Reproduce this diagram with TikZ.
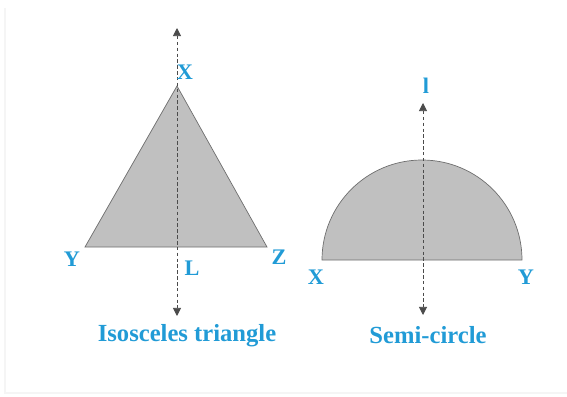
\documentclass[tikz,border=0pt]{standalone}
\usepackage{fontspec}
\setmainfont{Liberation Serif}
\usetikzlibrary{arrows.meta,positioning}
\definecolor{symBlue}{RGB}{33, 155, 214}
\definecolor{symFill}{RGB}{192, 192, 192}
\definecolor{symEdge}{RGB}{110, 110, 110}
\definecolor{symAxis}{RGB}{75, 75, 75}

\begin{document}
\begin{tikzpicture}[
  x=0.03cm,
  y=-0.03cm,
  shapefill/.style={
    draw=symEdge,
    fill=symFill,
    line width=0.6pt
  },
  symaxis/.style={
    {Triangle[length=7pt,width=7pt]}-{Triangle[length=7pt,width=7pt]},
    symAxis,
    line width=0.8pt,
    dash pattern=on 3pt off 2pt
  },
  ptlabel/.style={
    text=symBlue,
    font=\fontsize{19}{21}\selectfont\bfseries,
    inner sep=0pt
  },
  caption/.style={
    text=symBlue,
    font=\fontsize{21}{24}\selectfont\bfseries,
    inner sep=0pt
  }
]
  \useasboundingbox (0,0) rectangle (567,396);
  \draw[black!4,line width=1pt] (5,8) -- (5,393) -- (567,393);

  % isosceles triangle
  \coordinate (apexX) at (177,86);
  \coordinate (baseY) at (85,247);
  \coordinate (baseZ) at (267,247);
  \coordinate (midL) at (177,247);
  \coordinate (triTop) at (177,28);
  \coordinate (triBot) at (177,316);
  \draw[shapefill] (apexX) -- (baseY) -- (baseZ) -- cycle;
  \draw[symaxis] (triTop) -- (triBot);
  \node[ptlabel] (labX) at (185,72) {X};
  \node[ptlabel] (labY) at (72,259) {Y};
  \node[ptlabel] (labL) at (192,268) {L};
  \node[ptlabel] (labZ) at (279,257) {Z};
  \node[caption] (triName) at (187,336) {Isosceles triangle};

  % semi-circle
  \coordinate (semiX) at (322,260);
  \coordinate (semiY) at (522,260);
  \coordinate (semiTop) at (423,103);
  \coordinate (semiBot) at (423,315);
  \draw[shapefill] (semiX) arc[start angle=180,end angle=360,radius=100] -- cycle;
  \draw[symaxis] (semiTop) -- (semiBot);
  \node[ptlabel] (labl) at (426,86) {l};
  \node[ptlabel] (labSX) at (316,277) {X};
  \node[ptlabel] (labSY) at (526,277) {Y};
  \node[caption] (semiName) at (428,335) {Semi-circle};
\end{tikzpicture}
\end{document}
